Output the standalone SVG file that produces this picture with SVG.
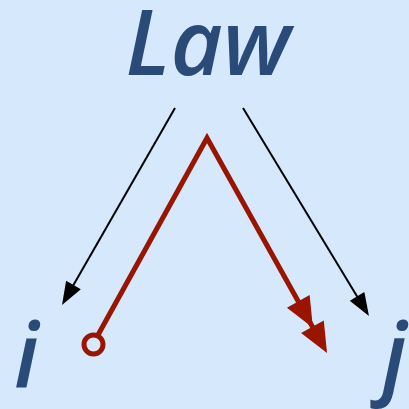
<svg xmlns="http://www.w3.org/2000/svg" width="409" height="409" viewBox="0 0 409 409">
<style>
.lbl{font-family:"Open Sans","DejaVu Sans",sans-serif;font-style:italic;font-weight:600;fill:#2a4a78;font-size:90px}
.blk{stroke:#000;stroke-width:2;fill:none}
.red{stroke:#991500;stroke-width:5;fill:none;stroke-linejoin:miter}
</style>
<defs>
<marker id="ab" markerUnits="userSpaceOnUse" viewBox="-14 -10 26 20" refX="0" refY="0" markerWidth="26" markerHeight="20" orient="auto">
<path d="M10,0 L-13,-8.5 L-13,8.5 Z" fill="#000"/>
</marker>
<marker id="ar" markerUnits="userSpaceOnUse" viewBox="-42 -15 64 30" refX="0" refY="0" markerWidth="64" markerHeight="30" orient="auto">
<path d="M20,0 L-10,-13 L-10,13 Z M-9,0 L-39,-13 L-39,13 Z" fill="#991500"/>
</marker>
</defs>
<rect width="409" height="409" fill="#d6e8fc"/>
<g id="law"><text class="lbl" x="208" y="75" text-anchor="middle" style="font-size:90px">Law</text></g>
<g id="i"><text class="lbl" x="14" y="387">i</text></g>
<g id="j"><text class="lbl" x="382" y="387">j</text></g>
<g id="connectors">
<line class="blk" x1="175" y1="108" x2="67" y2="296.3" marker-end="url(#ab)"/>
<line class="blk" x1="243" y1="108" x2="363.8" y2="307.4" marker-end="url(#ab)"/>
<polyline class="red" points="93,344 207,138 317.3,335.5" marker-end="url(#ar)"/>
<circle cx="93.5" cy="344.5" r="9.5" fill="#d6e8fc" stroke="#991500" stroke-width="5"/>
</g>
</svg>
